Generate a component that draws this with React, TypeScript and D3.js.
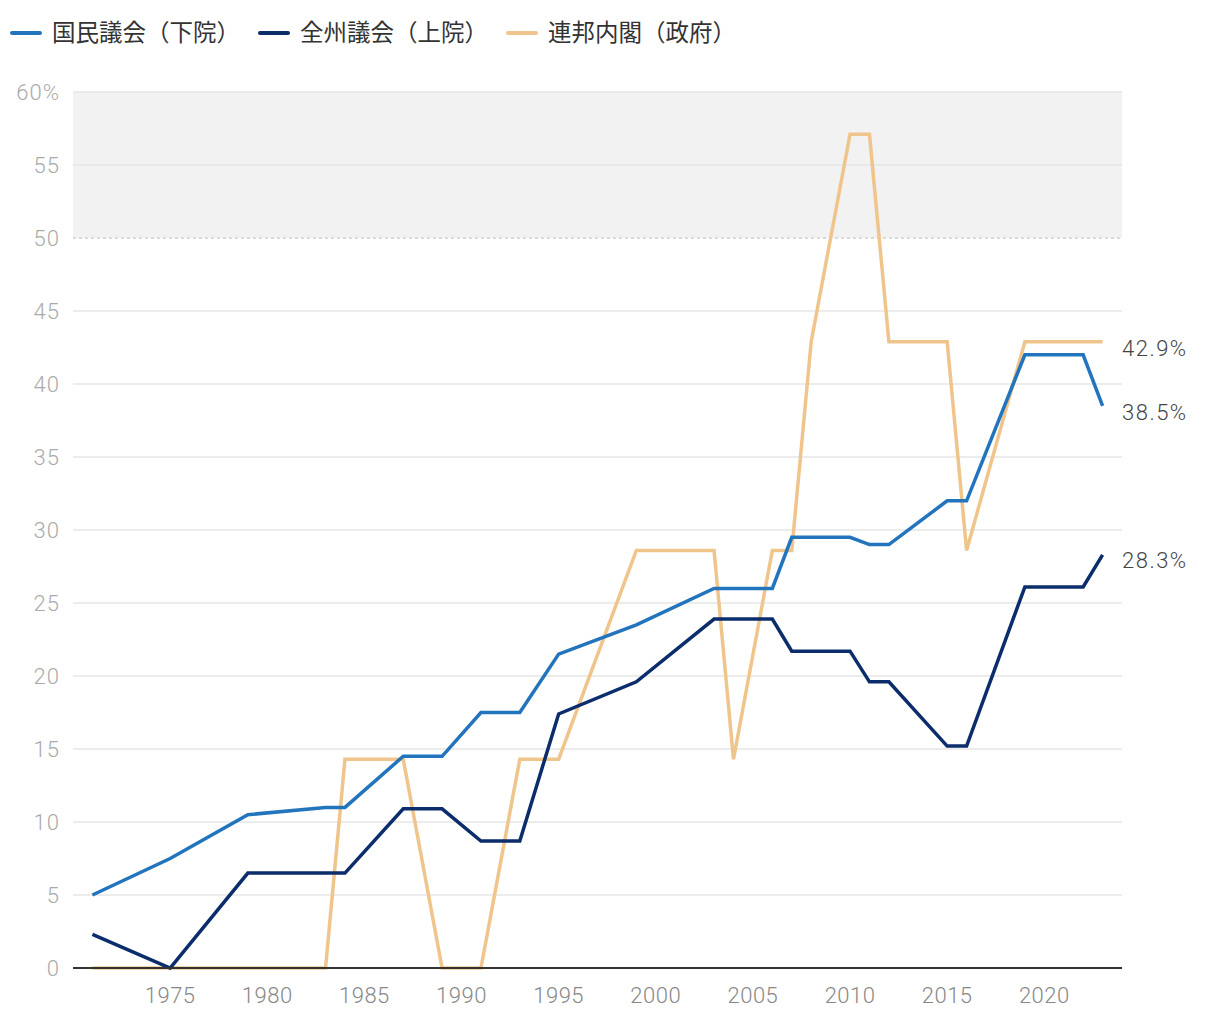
import React from "react";
import * as d3 from "d3";

const houseYears = [1971, 1975, 1979, 1983, 1984, 1987, 1989, 1991, 1993, 1995, 1999, 2003, 2006, 2007, 2010, 2011, 2012, 2015, 2016, 2019, 2022, 2023];
const houseValues = [5.0, 7.5, 10.5, 11.0, 11.0, 14.5, 14.5, 17.5, 17.5, 21.5, 23.5, 26.0, 26.0, 29.5, 29.5, 29.0, 29.0, 32.0, 32.0, 42.0, 42.0, 38.5];

const senateYears = [1971, 1975, 1979, 1984, 1987, 1989, 1991, 1993, 1995, 1999, 2003, 2006, 2007, 2010, 2011, 2012, 2015, 2016, 2019, 2022, 2023];
const senateValues = [2.3, 0, 6.5, 6.5, 10.9, 10.9, 8.7, 8.7, 17.4, 19.6, 23.9, 23.9, 21.7, 21.7, 19.6, 19.6, 15.2, 15.2, 26.1, 26.1, 28.3];

const cabinetYears = [1971, 1983, 1984, 1987, 1989, 1991, 1993, 1995, 1999, 2003, 2004, 2006, 2007, 2008, 2010, 2011, 2012, 2015, 2016, 2019, 2023];
const cabinetValues = [0, 0, 14.3, 14.3, 0, 0, 14.3, 14.3, 28.6, 28.6, 14.3, 28.6, 28.6, 42.9, 57.1, 57.1, 42.9, 42.9, 28.6, 42.9, 42.9];

const seriesNames = ["国民議会（下院）", "全州議会（上院）", "連邦内閣（政府）"];
const seriesColors = ["#2274bd", "#0b2d6b", "#efc58c"];
const endLabels = ["38.5%", "28.3%", "42.9%"];

const yTicks = [0, 5, 10, 15, 20, 25, 30, 35, 40, 45, 50, 55, 60];
const xTicks = [1975, 1980, 1985, 1990, 1995, 2000, 2005, 2010, 2015, 2020];

const FONT = "'Noto Sans CJK JP', 'Noto Sans', sans-serif";
const NUMFONT = "Roboto, 'Liberation Sans', sans-serif";

export default function App() {
  const W = 1220, H = 1020;
  const x = d3.scaleLinear().domain([1970, 2024]).range([73, 1122]);
  const y = d3.scaleLinear().domain([0, 60]).range([968, 92]);

  const series = [
    { years: houseYears, values: houseValues },
    { years: senateYears, values: senateValues },
    { years: cabinetYears, values: cabinetValues },
  ];
  const line = d3.line<[number, number]>().x(d => x(d[0])).y(d => y(d[1]));

  const legendX = [12, 260, 508];
  const drawOrder = [2, 1, 0];
  const labelY = [412, 560, 348];

  return (
    <svg width={W} height={H} style={{ position: "absolute", left: 0, top: 0, background: "#fff" }} fontFamily={FONT}>
      {/* legend */}
      {seriesNames.map((n, i) => (
        <g key={n}>
          <line x1={legendX[i]} x2={legendX[i] + 28} y1={33} y2={33} stroke={seriesColors[i]} strokeWidth={4} strokeLinecap="round" />
          <text x={legendX[i] + 40} y={33} dy="0.36em" fontSize={23.5} fill="#333">{n}</text>
        </g>
      ))}
      {/* shaded region */}
      <rect x={x(1970)} y={y(60)} width={x(2024) - x(1970)} height={y(50) - y(60)} fill="#f2f2f2" />
      {/* grid */}
      {yTicks.filter(t => t > 0).map(t => (
        <line key={t} x1={x(1970)} x2={x(2024)} y1={y(t)} y2={y(t)}
          stroke={t === 50 ? "#d9d9d9" : "#e6e6e6"} strokeWidth={t === 50 ? 2 : 1.5}
          strokeDasharray={t === 50 ? "3,3" : undefined} />
      ))}
      {/* y labels */}
      {yTicks.map(t => (
        <text key={t} x={60} y={y(t)} dy="0.36em" textAnchor="end" fontSize={22} fill="#aaa" fontWeight={300} fontFamily={NUMFONT} letterSpacing={1}>
          {t === 60 ? "60%" : String(t)}
        </text>
      ))}
      {/* x labels */}
      {xTicks.map(t => (
        <text key={t} x={x(t)} y={995} dy="0.36em" textAnchor="middle" fontSize={22} fill="#888" fontWeight={300} fontFamily={NUMFONT} letterSpacing={0.5}>{t}</text>
      ))}
      {/* lines */}
      {drawOrder.map(i => (
        <path key={i} d={line(series[i].years.map((yr, k) => [yr, series[i].values[k]] as [number, number])) || ""}
          fill="none" stroke={seriesColors[i]} strokeWidth={3.5} strokeLinejoin="miter" />
      ))}
      {/* axis */}
      <line x1={x(1970)} x2={x(2024)} y1={y(0)} y2={y(0)} stroke="#333" strokeWidth={2} />
      {/* end labels */}
      {endLabels.map((l, i) => (
        <text key={l} x={1122} y={labelY[i]} dy="0.36em" fontSize={22} fill="#444" fontWeight={300} fontFamily={NUMFONT} letterSpacing={1.5}>{l}</text>
      ))}
    </svg>
  );
}
